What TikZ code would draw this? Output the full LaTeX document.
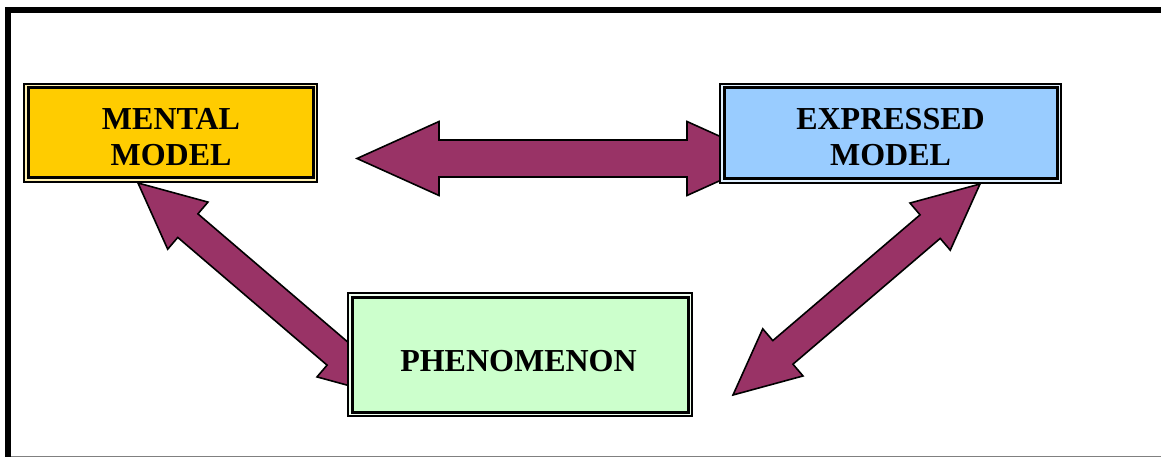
\documentclass[tikz,border=0pt]{standalone}
\usepackage{fontspec}
\setmainfont{Liberation Serif}
\usetikzlibrary{calc}
\definecolor{plum}{HTML}{993366}
\definecolor{mentalc}{HTML}{FFCC00}
\definecolor{exprc}{HTML}{99CCFF}
\definecolor{phenc}{HTML}{CCFFCC}
% #1,#2 tips, #3 shaft half width, #4 head half width, #5 head length
\newcommand\bigdblarrow[5]{%
  \draw[blockarrow] (#1)
    -- ($(#1)!#5!(#2)!#4!90:(#2)$) -- ($(#1)!#5!(#2)!#3!90:(#2)$)
    -- ($(#2)!#5!(#1)!#3!-90:(#1)$) -- ($(#2)!#5!(#1)!#4!-90:(#1)$)
    -- (#2)
    -- ($(#2)!#5!(#1)!#4!90:(#1)$) -- ($(#2)!#5!(#1)!#3!90:(#1)$)
    -- ($(#1)!#5!(#2)!#3!-90:(#2)$) -- ($(#1)!#5!(#2)!#4!-90:(#2)$)
    -- cycle;}
% inner thick border of a framed box
\newcommand\innerframe[2]{%
  \draw[innerline, fill=#2] ($(#1.north west)+(4,4)$) rectangle ($(#1.south east)+(-4,-4)$);}
\tikzset{
  blockarrow/.style={fill=plum, draw=black, line width=1.6pt, line join=miter},
  framebox/.style={rectangle, draw=black, line width=2pt, inner sep=0pt, outer sep=0pt},
  innerline/.style={draw=black, line width=3pt, line join=miter},
  lbl/.style={inner sep=0pt, align=center, font=\bfseries\fontsize{32}{36}\selectfont},
}
\begin{document}
\begin{tikzpicture}[x=1pt, y=-1pt]
\useasboundingbox (0,0) rectangle (1161,457);
% frame
\draw[line width=6pt, line join=miter] (1170,10) -- (8,10) -- (8,465);
\draw[gray, line width=1.2pt] (11,456.4) -- (1170,456.4);
% arrow tips
\coordinate (hL) at (357,158.5);
\coordinate (hR) at (769,158.5);
\coordinate (lU) at (138,183);
\coordinate (lD) at (387,396);
\coordinate (rU) at (980,184);
\coordinate (rD) at (733,395);
\bigdblarrow{hL}{hR}{18.5pt}{37pt}{82pt}
\bigdblarrow{lU}{lD}{15.5pt}{31pt}{65.6pt}
\bigdblarrow{rU}{rD}{15.5pt}{31pt}{65.6pt}
% boxes
\node[framebox, fill=mentalc!30!white, minimum width=293pt, minimum height=98pt] (mental) at (170.5,133) {};
\innerframe{mental}{mentalc}
\node[framebox, fill=exprc!30!white, minimum width=341pt, minimum height=99pt] (expressed) at (890.5,133.5) {};
\innerframe{expressed}{exprc}
\node[framebox, fill=phenc!30!white, minimum width=344pt, minimum height=123pt] (phenom) at (520,354.5) {};
\innerframe{phenom}{phenc}
% labels
\node[lbl] (mentalt) at (171,137) {MENTAL\\MODEL};
\node[lbl] (exprt) at (890.5,137) {EXPRESSED\\MODEL};
\node[lbl] (phent) at (518.5,361) {PHENOMENON};
\end{tikzpicture}
\end{document}
